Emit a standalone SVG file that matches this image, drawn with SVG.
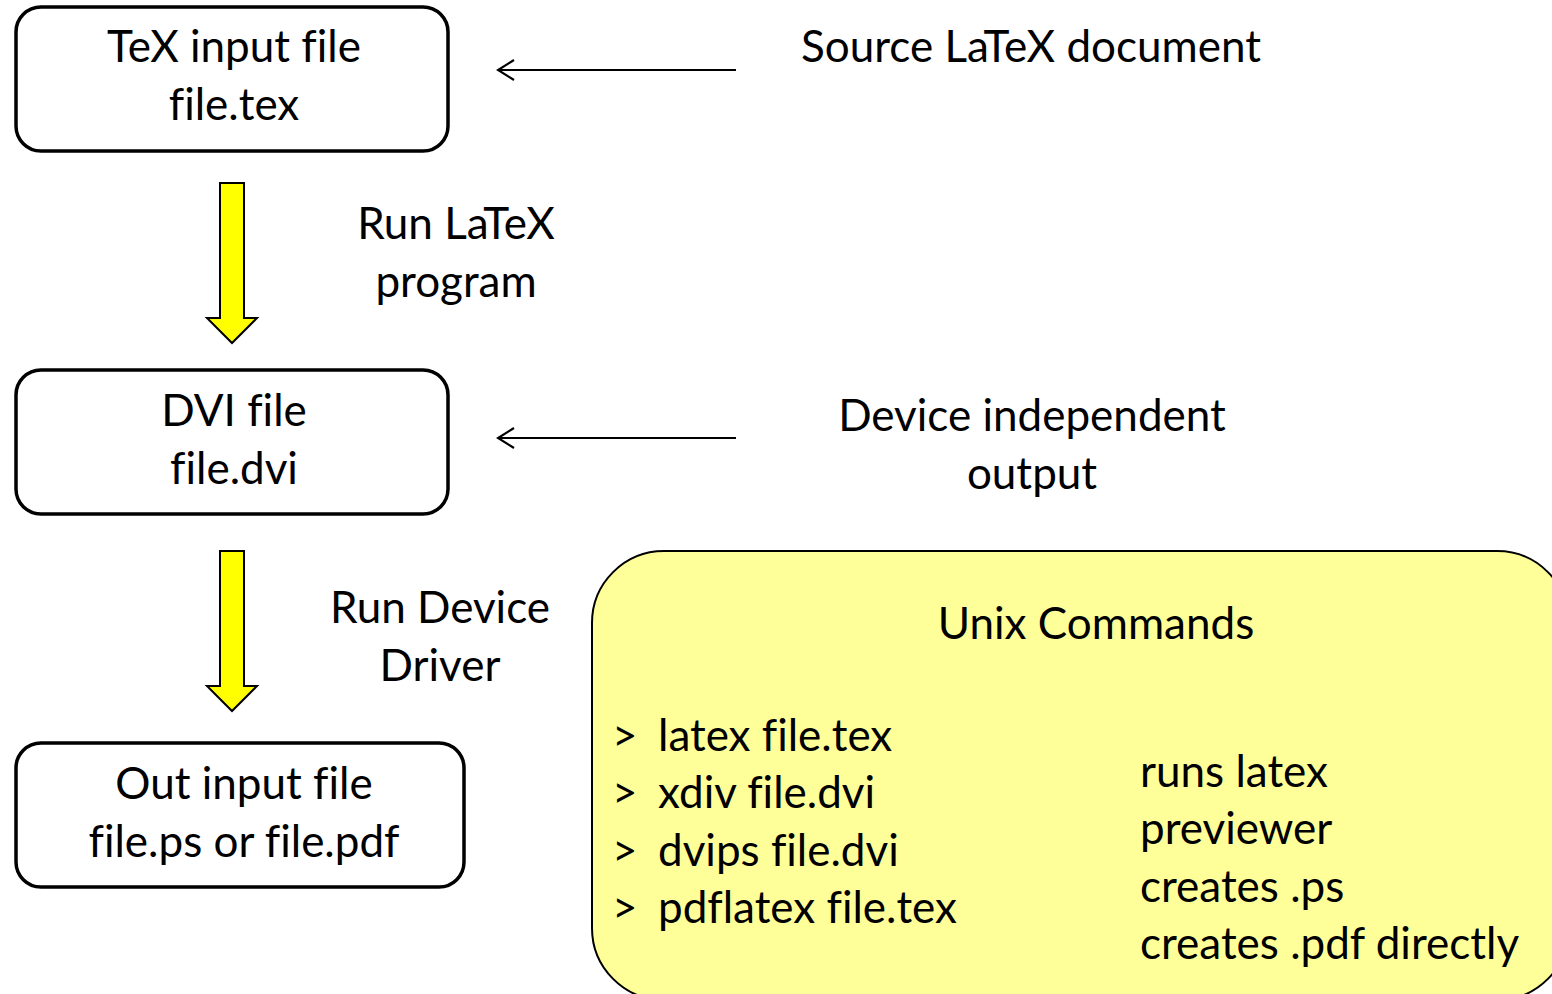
<svg xmlns="http://www.w3.org/2000/svg" width="1552" height="994" viewBox="0 0 1552 994">
  <style>
    text { font-family: Lato, "Liberation Sans", sans-serif; font-size: 44px; fill: #000; font-variant-ligatures: none; font-feature-settings: "liga" 0; }
    .c { text-anchor: middle; }
    .box { fill: #fff; stroke: #000; stroke-width: 3.5; }
    .panel { fill: #ffff99; stroke: #000; stroke-width: 2; }
    .block { fill: #ffff00; stroke: #000; stroke-width: 2; stroke-linejoin: miter; }
    .thin { fill: none; stroke: #000; stroke-width: 2.2; }
  </style>
  <defs>
    <!-- open chevron head, drawn pointing along the line direction -->
    <marker id="chev" viewBox="0 0 20 24" refX="18" refY="12" markerWidth="20" markerHeight="24" markerUnits="userSpaceOnUse" orient="auto">
      <path d="M2,2 L18,12 L2,22" fill="none" stroke="#000" stroke-width="2.2"/>
    </marker>
  </defs>

  <!-- Pipeline stages -->
  <g id="tex-input">
    <rect class="box" x="16" y="7" width="432" height="144" rx="25"/>
    <text class="c" x="234" y="62">TeX input file</text>
    <text class="c" x="234" y="120">file.tex</text>
  </g>
  <g id="dvi-file">
    <rect class="box" x="16" y="370" width="432" height="144" rx="25"/>
    <text class="c" x="234" y="426">DVI file</text>
    <text class="c" x="234" y="484">file.dvi</text>
  </g>
  <g id="out-file">
    <rect class="box" x="16" y="743" width="448" height="144" rx="25"/>
    <text class="c" x="244" y="799">Out input file</text>
    <text class="c" x="244" y="857">file.ps or file.pdf</text>
  </g>

  <!-- Annotations -->
  <g id="note-source">
    <text class="c" x="1031" y="62">Source LaTeX document</text>
  </g>
  <g id="note-device">
    <text class="c" x="1032" y="431">Device independent</text>
    <text class="c" x="1032" y="489">output</text>
  </g>
  <g id="label-latex">
    <text class="c" x="456" y="239">Run LaTeX</text>
    <text class="c" x="456" y="297">program</text>
  </g>
  <g id="label-driver">
    <text class="c" x="440" y="623">Run Device</text>
    <text class="c" x="440" y="681">Driver</text>
  </g>

  <!-- Command summary panel -->
  <g id="unix-commands">
    <rect class="panel" x="592" y="551" width="977" height="449" rx="72"/>
    <text class="c" x="1096" y="639">Unix Commands</text>
    <text x="612" y="751">&gt;</text>
    <text x="658" y="751">latex file.tex</text>
    <text x="612" y="808">&gt;</text>
    <text x="658" y="808">xdiv file.dvi</text>
    <text x="612" y="866">&gt;</text>
    <text x="658" y="866">dvips file.dvi</text>
    <text x="612" y="923">&gt;</text>
    <text x="658" y="923">pdflatex file.tex</text>
    <text x="1140" y="787">runs latex</text>
    <text x="1140" y="844">previewer</text>
    <text x="1140" y="902">creates .ps</text>
    <text x="1140" y="959">creates .pdf directly</text>
  </g>

  <!-- Connectors -->
  <g id="connectors">
    <path class="block" d="M220,183 H244 V318 H257 L232,343 L207,318 H220 Z"/>
    <path class="block" d="M220,551 H244 V686 H257 L232,711 L207,686 H220 Z"/>
    <line class="thin" x1="736" y1="70" x2="498" y2="70" marker-end="url(#chev)"/>
    <line class="thin" x1="736" y1="438" x2="498" y2="438" marker-end="url(#chev)"/>
  </g>
</svg>
